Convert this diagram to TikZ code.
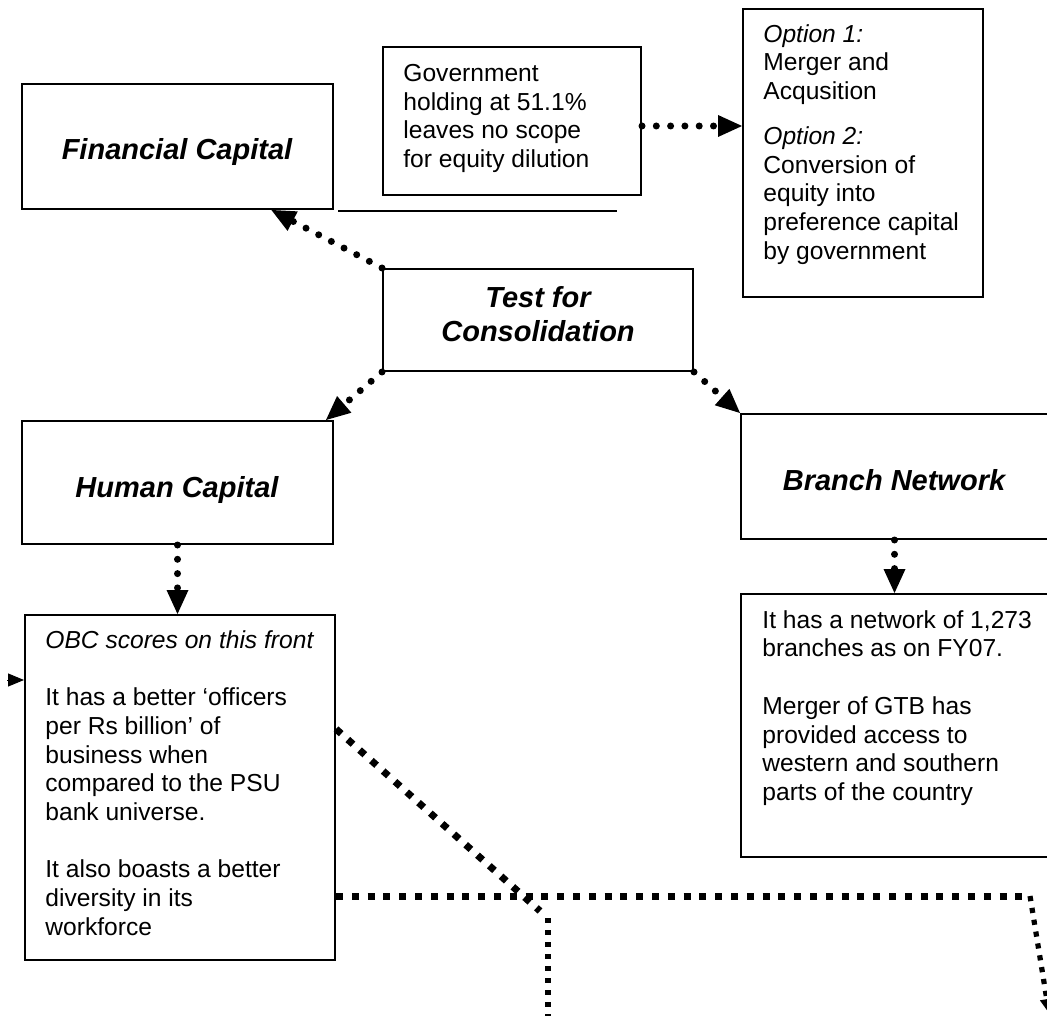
\documentclass[tikz,border=0pt]{standalone}
\usepackage{fontspec}
\setmainfont{Liberation Sans}
\usepackage{tikz}
\usetikzlibrary{positioning}
\usetikzlibrary{calc,fit,arrows.meta}

\tikzset{
  box/.style={draw, line width=1pt, inner sep=0pt},
  body/.style={inner sep=0pt, anchor=north west, align=left,
    font=\fontsize{12.3pt}{14.35pt}\selectfont},
  title/.style={inner sep=0pt, font=\fontsize{14.5pt}{17pt}\selectfont\bfseries\itshape},
  dotline/.style={line width=3.5pt, line cap=round, dash pattern=on 0pt off 7.15pt,
    -{Triangle[length=12pt,width=11pt,line width=0pt]}},
  sqline/.style={line width=3.5pt, dash pattern=on 3.5pt off 4.4pt},
  thinsq/.style={line width=2.6pt, dash pattern=on 2.6pt off 3.4pt},
}

\begin{document}
\begin{tikzpicture}[x=0.5pt, y=-0.5pt]

	\path[fill=white, use as bounding box] (0,0) rectangle (1047,1015);

	% the boxes, given by their corners (in pixels of the page)
	\node[box, fit={(22,84) (333,209)}]   (FC)   {};
	\node[box, fit={(383,47) (641,195)}]  (Gov)  {};
	\node[box, fit={(743,9) (983,297)}]   (Opt)  {};
	\node[box, fit={(383,269) (693,371)}] (Test) {};
	\node[box, fit={(22,421) (333,544)}]  (HC)   {};
	\node[box, fit={(741,414) (1048,539)}] (BN)  {};
	\node[box, fit={(25,615) (335,960)}]  (HCt)  {};
	\node[box, fit={(741,594) (1048,857)}] (BNt) {};

	% titles
	\node[title, anchor=base] (FCl) at (177,160) {Financial Capital};
	\node[title, anchor=base] (HCl) at (177,497) {Human Capital};
	\node[title, anchor=base] (BNl) at (894,490) {Branch Network};
	\node[title, anchor=north, align=center] (Testl) at (538,286) {Test for\\Consolidation};

	% texts
	\node[body] (Govl) at (403,64) {Government\\holding at 51.1\%\\leaves no scope\\for equity dilution};
	\node[body] (Optl) at (763,24) {\textit{Option 1:}\\Merger and\\Acqusition\\[8pt]\textit{Option 2:}\\Conversion of\\equity into\\preference capital\\by government};
	\node[body] (HCtl) at (45,630) {\textit{OBC scores on this front}\\[14.35pt]It has a better ‘officers\\per Rs billion’ of\\business when\\compared to the PSU\\bank universe.\\[14.35pt]It also boasts a better\\diversity in its\\workforce};
	\node[body] (BNtl) at (762,610) {It has a network of 1,273\\branches as on FY07.\\[14.35pt]Merger of GTB has\\provided access to\\western and southern\\parts of the country};

	% free ends
	\coordinate (L1) at (338,211);
	\coordinate (L2) at (617,211);
	\coordinate (In) at (7,680);
	\coordinate (J) at (1030,896);
	\coordinate (K) at (540,911);
	\coordinate (K2) at (548,918);
	\coordinate (Out1) at (1049,1013);
	\coordinate (Out2) at (548,1016);

	\draw[line width=1pt] (L1) -- (L2);

	% dotted arrows
	\draw[dotline] (Test.north west) -- ($(FC.south west)!0.8!(FC.south east)$);
	\draw[dotline] (Test.south west) -- ([xshift=-4pt]HC.north east);
	\draw[dotline] (Test.south east) -- (BN.north west);
	\draw[dotline] ([yshift=-2.5pt]Gov.east) -- ([yshift=-2.5pt]Gov.east -| Opt.west);
	\draw[dotline] (HC.south) -- (HC.south |- HCt.north);
	\draw[dotline] (BN.south) -- (BN.south |- BNt.north);
	\draw[line width=0.5pt, -{Triangle[length=8pt,width=6.5pt]}] (In) -- (HCt.west |- In);

	% square dotted lines leaving the page
	\draw[sqline] (HCt.east |- 0,729) -- (K);
	\draw[thinsq] (K2) -- (Out2);
	\draw[sqline] (HCt.east |- J) -- (J);
	\draw[thinsq, -{Triangle[length=7pt,width=7pt,line width=0pt]}] (J) -- (Out1);

\end{tikzpicture}
\end{document}
